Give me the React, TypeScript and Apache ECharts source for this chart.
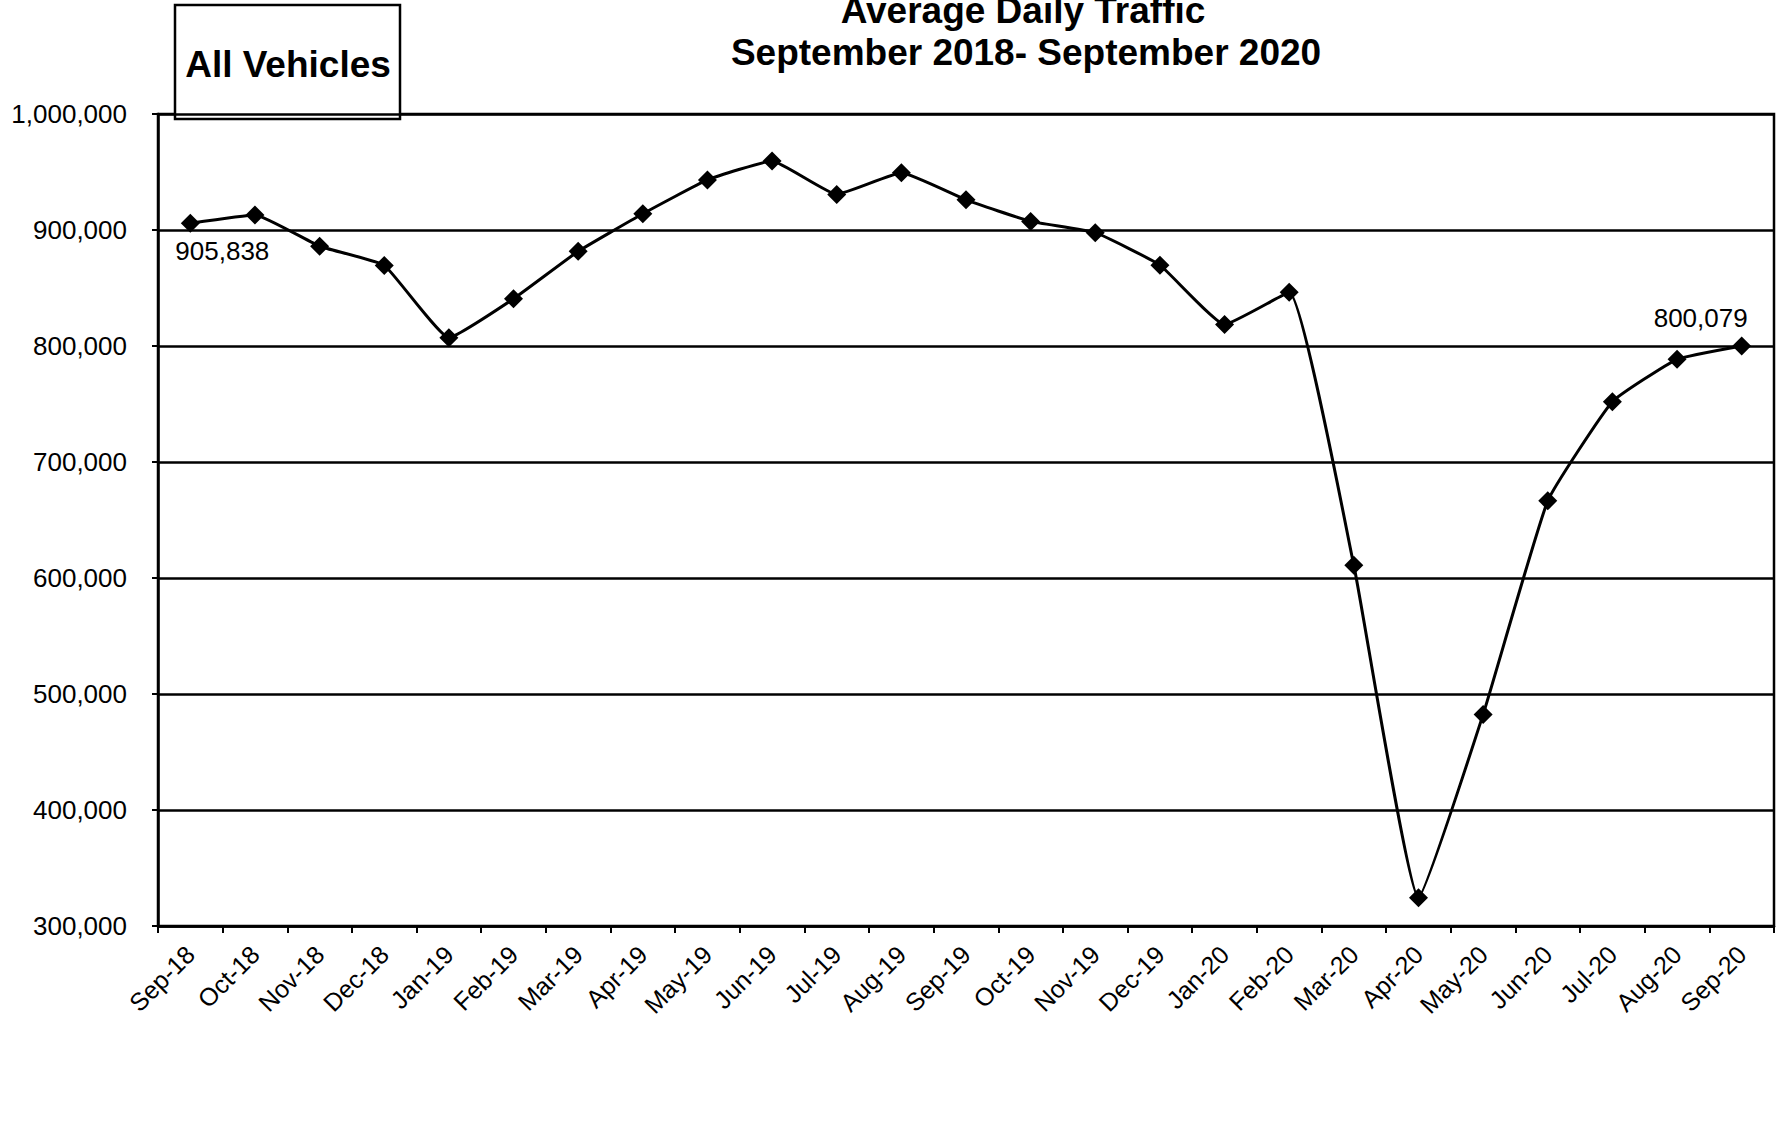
import React, { useEffect, useRef } from "react";
import * as echarts from "echarts";

const months = [
  "Sep-18", "Oct-18", "Nov-18", "Dec-18", "Jan-19", "Feb-19", "Mar-19", "Apr-19",
  "May-19", "Jun-19", "Jul-19", "Aug-19", "Sep-19", "Oct-19", "Nov-19", "Dec-19",
  "Jan-20", "Feb-20", "Mar-20", "Apr-20", "May-20", "Jun-20", "Jul-20", "Aug-20", "Sep-20",
];

const traffic = [
  905838, 913000, 886000, 869500, 807200, 840700, 881600, 914000,
  943200, 959500, 930700, 949300, 926000, 907400, 897700, 869700,
  818500, 846300, 610900, 324400, 482400, 666500, 752000, 788500, 800079,
];

const labelledIndices = [0, 24];

const titleLines = ["Average Daily Traffic", "September 2018- September 2020"];
const boxText = "All Vehicles";

const FONT = "'Liberation Sans', Arial, Helvetica, sans-serif";

const fmt = (v: number) => v.toLocaleString("en-US");

export default function App() {
  const ref = useRef<HTMLDivElement>(null);

  useEffect(() => {
    if (!ref.current) return;
    const chart = echarts.init(ref.current, undefined, { renderer: "svg" });

    const data = traffic.map((v, i) => {
      if (!labelledIndices.includes(i)) return v;
      const first = i === 0;
      return {
        value: v,
        label: {
          show: true,
          position: first ? "bottom" : "top",
          offset: first ? [32, 0] : [-41, 0],
          distance: 5,
          formatter: (p: any) => fmt(p.value),
          fontFamily: FONT,
          fontSize: 26,
          color: "#000",
        },
      };
    });

    chart.setOption({
      animation: false,
      backgroundColor: "#fff",
      grid: {
        left: 158,
        top: 114,
        width: 1616,
        height: 812,
        show: true,
        borderColor: "#000",
        borderWidth: 2.5,
        backgroundColor: "transparent",
      },
      xAxis: {
        type: "category",
        data: months,
        boundaryGap: true,
        axisLine: { show: true, lineStyle: { color: "#000", width: 2.5 } },
        axisTick: { show: true, length: 7, lineStyle: { color: "#000", width: 2 } },
        axisLabel: {
          rotate: 45,
          margin: 24,
          fontFamily: FONT,
          fontSize: 25,
          color: "#000",
          interval: 0,
        },
        splitLine: { show: false },
      },
      yAxis: {
        type: "value",
        min: 300000,
        max: 1000000,
        interval: 100000,
        axisLine: { show: true, lineStyle: { color: "#000", width: 2.5 } },
        axisTick: { show: true, length: 6, lineStyle: { color: "#000", width: 2 } },
        axisLabel: {
          margin: 31,
          fontFamily: FONT,
          fontSize: 26,
          color: "#000",
          formatter: (v: number) => fmt(v),
        },
        splitLine: { show: true, lineStyle: { color: "#000", width: 2.5 } },
      },
      series: [
        {
          type: "line",
          data,
          smooth: 0.12,
          symbol: "diamond",
          symbolSize: 19,
          itemStyle: { color: "#000" },
          lineStyle: { color: "#000", width: 3 },
          z: 5,
        },
      ],
      graphic: [
        {
          type: "group",
          z: 100,
          children: [
            {
              type: "rect",
              shape: { x: 175, y: 5, width: 225, height: 114 },
              style: { fill: "#fff", stroke: "#000", lineWidth: 2.5 },
            },
            {
              type: "text",
              x: 288,
              y: 64,
              style: {
                text: boxText,
                fontFamily: FONT,
                fontSize: 37,
                fontWeight: "bold",
                fill: "#000",
                align: "center",
                verticalAlign: "middle",
              },
            },
            {
              type: "text",
              x: 1023,
              y: 10,
              style: {
                text: titleLines[0],
                fontFamily: FONT,
                fontSize: 37,
                fontWeight: "bold",
                fill: "#000",
                align: "center",
                verticalAlign: "middle",
              },
            },
            {
              type: "text",
              x: 1026,
              y: 52,
              style: {
                text: titleLines[1],
                fontFamily: FONT,
                fontSize: 37,
                fontWeight: "bold",
                fill: "#000",
                align: "center",
                verticalAlign: "middle",
              },
            },
          ],
        },
      ],
    });

    return () => chart.dispose();
  }, []);

  return (
    <div
      ref={ref}
      style={{ position: "fixed", left: 0, top: 0, width: 1783, height: 1143, background: "#fff" }}
    />
  );
}
